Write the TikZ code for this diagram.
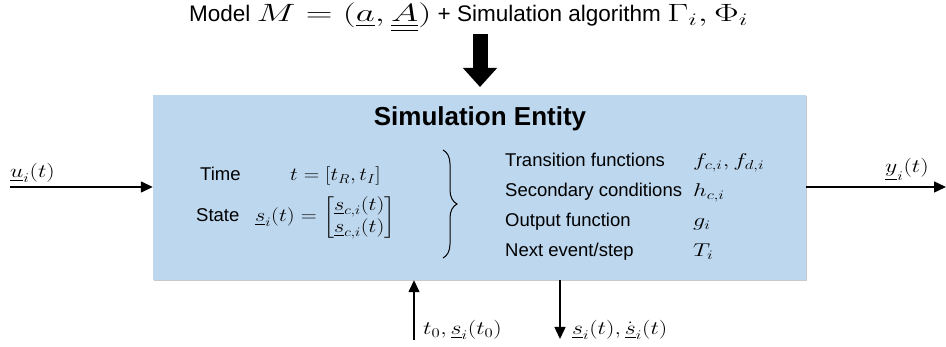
\RequirePackage{fix-cm}
\documentclass[tikz,border=0pt]{standalone}
\usepackage{amsmath}
\usepackage{graphicx}
\usepackage[no-math]{fontspec}
\setmainfont{Liberation Sans}
\usetikzlibrary{arrows.meta,decorations.pathreplacing,shadows}
\definecolor{entblue}{HTML}{BDD7EE}
\newcommand{\stretchmath}[2]{\scalebox{#1}[1]{$#2$}}
\newcommand{\titlemath}[1]{{\fontsize{25}{28}\selectfont\scalebox{1.48}[1]{$#1$}}}
\begin{document}
\begin{tikzpicture}[x=1pt,y=-1pt,
  lbl/.style={inner sep=0pt, anchor=base west, font=\fontsize{18.5}{22}\selectfont},
  mlbl/.style={inner sep=0pt, anchor=base west, font=\fontsize{19}{22}\selectfont},
  conn/.style={line width=1.4pt, -{Triangle[length=12pt,width=11pt]}},
  bigarrow/.style={line width=15pt, -{Triangle[length=19pt,width=33pt]}},
  entity/.style={fill=entblue, minimum width=653pt, minimum height=185pt, inner sep=0pt,
    drop shadow={shadow xshift=1pt,shadow yshift=-1.5pt,opacity=0.35,fill=black!60}},
  ]
\useasboundingbox (0,0) rectangle (946,347);
% title
\node[anchor=base west, inner sep=0pt, font=\fontsize{22.5}{26}\selectfont] (title) at (189,22)
  {Model \titlemath{M=(\underline{a},\underline{\underline{A}})} + Simulation algorithm \titlemath{\Gamma_i,\Phi_i}};
% entity box
\node[entity] (ent) at (479.5,187.5) {};
\node[anchor=base, inner sep=0pt, font=\bfseries\fontsize{26}{30}\selectfont] (head) at (480,126) {Simulation Entity};
% big arrow
\coordinate (dropA) at (480,34);
\coordinate (dropB) at (480,87);
\draw[bigarrow] (dropA) -- (dropB);
% left input
\coordinate (uin) at (10,187);
\draw[conn] (uin) -- (uin -| ent.west);
\node[mlbl] (ul) at (10,178) {\stretchmath{1.25}{\underline{u}_i(t)}};
% right output
\coordinate (yout) at (946,187);
\draw[conn] (yout -| ent.east) -- (yout);
\node[mlbl] (yl) at (885,173) {\stretchmath{1.25}{\underline{y}_i(t)}};
% bottom
\coordinate (tin) at (414,340);
\draw[conn] (tin) -- (tin |- ent.south);
\node[mlbl] (tl) at (423,335) {\stretchmath{1.25}{t_0,\underline{s}_i(t_0)}};
\coordinate (sout) at (560,339);
\draw[conn] (sout |- ent.south) -- (sout);
\node[mlbl] (sl) at (572,335) {\stretchmath{1.25}{\underline{s}_i(t),\dot{\underline{s}}_i(t)}};
% inner left
\node[lbl] (time) at (200,181) {Time};
\node[lbl] (tval) at (290,181) {\stretchmath{1.16}{t=[t_R,t_I]}};
\node[lbl] (state) at (196,222) {State};
\node[lbl] (sval) at (255,222) {\stretchmath{1.2}{\underline{s}_i(t)=\begin{bmatrix}\underline{s}_{c,i}(t)\\\underline{s}_{c,i}(t)\end{bmatrix}}};
\draw[decorate, decoration={brace, amplitude=14pt}, line width=1pt] (443,150) -- (443,258);
% inner right
\node[lbl] (tf) at (505,167) {Transition functions};
\node[lbl] (sc) at (505,197) {Secondary conditions};
\node[lbl] (of) at (505,227) {Output function};
\node[lbl] (ne) at (505,257) {Next event/step};
\node[lbl] (tfm) at (693,167) {\stretchmath{1.3}{f_{c,i},f_{d,i}}};
\node[lbl] (scm) at (693,197) {\stretchmath{1.3}{h_{c,i}}};
\node[lbl] (ofm) at (693,227) {\stretchmath{1.3}{g_i}};
\node[lbl] (nem) at (693,257) {\stretchmath{1.3}{T_i}};
\end{tikzpicture}
\end{document}
